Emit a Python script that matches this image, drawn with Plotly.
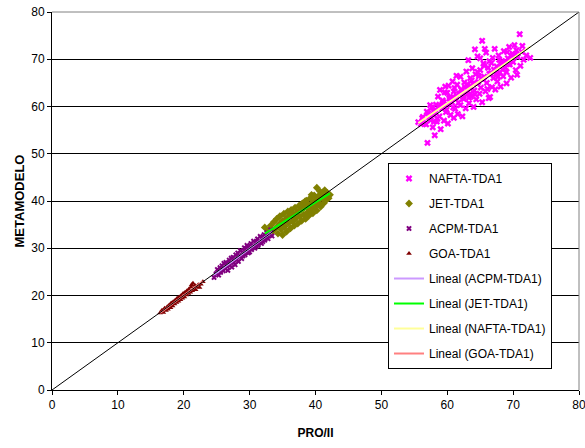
import numpy as np
import plotly.graph_objects as go

# PRO/II simulation (x) vs. metamodel prediction (y), per feed
nafta_pro = [55.6, 56.0, 56.3, 56.5, 56.8, 57.0, 57.1, 57.3, 57.5, 57.6, 56.9, 57.4,
             57.8, 58.0, 58.1, 58.3, 58.4, 58.6, 58.8, 58.9, 59.0, 59.2,
             59.3, 59.5, 59.6, 59.8, 60.0, 60.1, 60.2, 60.4, 60.5, 60.7, 60.8, 61.0, 61.0,
             61.2, 61.3, 61.5, 61.6, 61.8, 62.0, 62.0, 62.2, 62.3, 62.5, 62.6, 62.8, 62.9, 63.0,
             63.1, 63.2, 63.3, 63.5, 63.6, 63.8, 63.9, 64.0, 64.1, 64.3, 64.4, 64.6, 64.7, 64.9,
             65.0, 65.1, 65.3, 65.3, 65.5, 65.6, 65.8, 65.9, 66.0, 66.2, 66.3, 66.5, 66.6, 66.8, 66.9,
             67.0, 67.2, 67.3, 67.5, 67.6, 67.8, 68.0, 68.1, 68.3, 68.5, 68.6, 68.8, 69.0, 69.0,
             69.2, 69.4, 69.5, 69.7, 69.9, 70.0, 70.2, 70.4, 70.6, 70.7, 71.0, 71.1,
             71.3, 71.6, 72.0, 72.6, 59.7, 61.4, 64.2, 65.7, 60.9, 62.7, 64.5, 66.4, 68.2, 58.2,
             59.1, 60.6, 61.9, 63.4, 65.4, 67.1, 68.9, 70.3,
             56.2, 57.2, 57.9, 58.5, 59.4, 59.9, 60.3, 60.9, 61.4, 61.7,
             62.1, 62.4, 63.0, 63.3, 63.7, 64.2, 64.6, 65.2, 65.6, 66.1,
             66.7, 67.4, 67.9, 68.4, 69.3, 69.8, 70.5, 71.4, 58.7, 60.0,
             61.1, 62.6, 64.8, 66.4, 67.7, 69.1, 63.5, 65.0, 60.6, 58.0]
nafta_meta = [56.7, 56.3, 57.8, 56.4, 56.2, 52.3, 58.6, 57.6, 57.1, 59.8, 58.9, 60.3,
              55.6, 58.2, 53.9, 60.4, 56.8, 62.1, 57.9, 63.5, 55.2, 59.6,
              61.3, 57.0, 63.0, 58.8, 60.5, 56.4, 64.4, 62.0, 58.2, 60.9, 65.3, 57.6, 63.2,
              59.5, 61.8, 64.6, 58.4, 62.7, 60.3, 66.3, 63.5, 57.9, 61.6, 65.1, 59.6, 67.4, 62.8,
              64.3, 69.8, 60.7, 66.0, 62.1, 68.1, 64.8, 59.9, 63.4, 66.8, 61.5, 70.6, 65.2, 62.7,
              67.7, 64.0, 73.9, 60.9, 69.1, 66.3, 63.2, 71.4, 65.0, 68.2, 61.8, 62.0, 67.0, 64.1, 70.3,
              66.0, 72.2, 63.6, 68.5, 65.3, 70.8, 67.2, 64.2, 69.6, 66.4, 71.7, 68.3, 67.3, 64.9,
              70.2, 72.6, 68.9, 66.1, 71.2, 69.4, 73.0, 67.7, 66.7, 70.5, 75.3, 68.6,
              71.6, 69.9, 70.8, 70.3, 64.2, 66.5, 72.1, 72.2, 61.9, 64.0, 64.9, 66.9, 68.9, 59.3,
              60.2, 61.7, 62.6, 63.9, 65.8, 67.8, 69.5, 71.0,
              57.5, 58.0, 59.0, 57.4, 60.9, 59.3, 61.7, 59.8, 62.3, 60.8,
              63.6, 62.0, 64.7, 61.9, 65.5, 62.6, 67.3, 65.9, 68.6, 63.7,
              69.2, 66.9, 69.9, 67.8, 69.0, 70.7, 71.9, 72.8, 60.1, 62.9,
              63.9, 63.0, 66.4, 69.6, 66.3, 71.5, 62.7, 70.2, 61.5, 56.8]

jet_pro = [32.3, 32.8, 33.2, 33.5, 33.7, 34.0, 34.1, 34.3, 34.5, 34.6, 34.8, 35.0, 35.0,
           35.2, 35.3, 35.5, 35.6, 35.8, 35.9, 36.0, 36.2, 36.3, 36.5, 36.6, 36.8, 36.9,
           37.0, 37.2, 37.3, 37.5, 37.6, 37.8, 37.9, 38.0, 38.2, 38.3, 38.5, 38.6, 38.8,
           38.9, 39.0, 39.2, 39.3, 39.5, 39.6, 39.8, 39.9, 40.0, 40.2, 40.2, 40.4, 40.5,
           40.7, 40.8, 41.0, 41.1, 41.3, 41.5, 41.6, 41.8, 42.0, 42.2, 41.4, 40.9, 39.4, 38.4,
           35.4, 36.4, 37.4, 38.7, 39.7, 40.6]
jet_meta = [34.4, 33.9, 34.8, 33.6, 35.6, 34.3, 36.2, 33.1, 35.1, 36.8, 34.0, 32.8, 35.8,
            37.3, 34.6, 36.2, 33.5, 37.8, 35.3, 36.8, 34.2, 38.1, 35.7, 37.2, 34.8, 38.6,
            36.3, 37.6, 35.2, 39.0, 36.7, 38.2, 35.8, 39.5, 37.1, 38.6, 36.2, 40.1, 37.6,
            39.2, 36.9, 40.6, 38.3, 39.6, 37.4, 41.2, 38.8, 40.2, 42.8, 38.0, 41.0, 39.4,
            42.0, 38.8, 40.6, 41.8, 39.6, 41.2, 40.2, 41.7, 40.6, 41.3, 42.3, 41.5, 41.3, 39.9,
            35.9, 36.9, 37.7, 38.7, 39.5, 40.3]

acpm_pro = [24.6, 24.9, 25.1, 25.3, 25.5, 25.6, 25.8, 26.0, 26.1, 26.3, 26.4, 26.6, 26.7,
            26.9, 27.0, 27.2, 27.3, 27.5, 27.6, 27.8, 27.9, 28.0, 28.2, 28.3, 28.5, 28.6,
            28.8, 28.9, 29.0, 29.2, 29.3, 29.5, 29.6, 29.8, 29.9, 30.0, 30.2, 30.3, 30.5,
            30.6, 30.8, 30.9, 31.0, 31.2, 31.3, 31.5, 31.6, 31.8, 31.9, 32.0, 32.2, 32.3,
            32.5, 32.6, 32.8, 33.0, 33.2, 33.4, 32.7, 31.1, 29.4, 28.1, 26.8, 25.9]
acpm_meta = [23.8, 24.6, 25.5, 24.3, 25.9, 24.9, 26.3, 25.2, 26.8, 25.7, 27.0, 26.1, 25.3,
             27.5, 26.4, 27.9, 26.0, 28.1, 27.0, 26.5, 28.6, 27.5, 29.0, 27.2, 28.3, 29.5,
             27.8, 29.2, 28.4, 30.1, 28.6, 29.4, 30.6, 29.0, 30.3, 29.2, 31.0, 29.7, 30.5,
             31.5, 30.0, 31.2, 30.4, 32.0, 30.6, 31.4, 32.5, 31.0, 32.2, 31.4, 32.9, 31.7,
             32.4, 33.3, 32.0, 33.0, 33.9, 32.6, 32.7, 31.3, 29.9, 28.2, 26.9, 25.8]

goa_pro = [16.4, 16.7, 16.9, 17.1, 17.3, 17.5, 17.6, 17.8, 18.0, 18.1, 18.3, 18.4, 18.6,
           18.7, 18.9, 19.0, 19.2, 19.3, 19.5, 19.6, 19.8, 19.9, 20.1, 20.2, 20.4, 20.5,
           20.7, 20.8, 21.0, 21.1, 21.3, 21.4, 21.5, 21.7, 21.8, 22.0, 22.2, 22.4, 22.6,
           22.9, 19.4, 20.6, 17.9, 21.2]
goa_meta = [16.3, 16.9, 16.4, 17.3, 16.8, 17.6, 17.1, 18.0, 17.4, 18.4, 17.8, 18.7, 18.2,
            19.0, 18.5, 19.4, 18.8, 19.7, 19.1, 20.0, 19.4, 20.4, 19.7, 20.7, 20.1, 21.0,
            20.4, 21.4, 20.7, 21.8, 21.0, 22.6, 21.3, 22.1, 21.2, 21.8, 22.3, 21.7, 22.4,
            22.9, 19.2, 20.6, 17.9, 22.3]

# y = x reference line over the axis span
identity_line = [0, 80]
axis_ticks = [0, 10, 20, 30, 40, 50, 60, 70, 80]

FONT = "Arial, Liberation Sans, sans-serif"

scatter_series = [
    ("NAFTA-TDA1", nafta_pro, nafta_meta, "x", "#FF00FF", 6),
    ("JET-TDA1", jet_pro, jet_meta, "diamond", "#808000", 6),
    ("ACPM-TDA1", acpm_pro, acpm_meta, "x", "#800080", 5),
    ("GOA-TDA1", goa_pro, goa_meta, "triangle-up", "#800000", 5),
]
trend_series = [
    ("Lineal (ACPM-TDA1)", acpm_pro, acpm_meta, "#CC99FF"),
    ("Lineal (JET-TDA1)", jet_pro, jet_meta, "#00FF00"),
    ("Lineal (NAFTA-TDA1)", nafta_pro, nafta_meta, "#FFFF99"),
    ("Lineal (GOA-TDA1)", goa_pro, goa_meta, "#FF8080"),
]

fig = go.Figure()

for i, (name, xs, ys, sym, col, sz) in enumerate(scatter_series):
    fig.add_trace(go.Scatter(
        x=xs, y=ys, mode="markers", name=name, legendgroup=f"g{i}",
        marker=dict(symbol=sym, color=col, size=sz, line=dict(width=0)),
    ))

# least-squares trend line for each feed
for j, (name, xs, ys, col) in enumerate(trend_series):
    slope, intercept = np.polyfit(xs, ys, 1)
    xl = np.array([min(xs), max(xs)])
    fig.add_trace(go.Scatter(
        x=xl, y=slope * xl + intercept, mode="lines", name=name,
        legendgroup=f"t{j}", line=dict(color=col, width=2),
    ))

fig.add_trace(go.Scatter(
    x=identity_line, y=identity_line, mode="lines", showlegend=False,
    line=dict(color="black", width=1), hoverinfo="skip",
))

axis_common = dict(
    range=[0, 80], tickvals=axis_ticks, ticks="outside", ticklen=4,
    tickcolor="black", showline=True, linecolor="black", linewidth=1,
    zeroline=False, tickfont=dict(family=FONT, size=12, color="black"),
    ticklabeloverflow="allow", automargin=False,
)

fig.update_layout(
    width=585, height=448,
    margin=dict(l=52, r=6, t=12, b=58),
    paper_bgcolor="white", plot_bgcolor="white",
    font=dict(family=FONT, color="black"),
    xaxis=dict(**axis_common, showgrid=False,
               title=dict(text="<b>PRO/II</b>", font=dict(family=FONT, size=12), standoff=17)),
    yaxis=dict(**axis_common, showgrid=True, gridcolor="#000000", gridwidth=1,
               title=dict(text="<b>METAMODELO</b>", font=dict(family=FONT, size=13), standoff=3)),
    legend=dict(
        x=0.6376, y=0.6005, xanchor="left", yanchor="top",
        bgcolor="white", bordercolor="black", borderwidth=1,
        font=dict(family=FONT, size=12, color="black"),
        traceorder="grouped", tracegroupgap=6,
    ),
    shapes=[
        dict(type="line", xref="paper", yref="paper", x0=1, x1=1, y0=0, y1=1,
             line=dict(color="#808080", width=1)),
        dict(type="line", xref="paper", yref="paper", x0=0, x1=1, y0=1, y1=1,
             line=dict(color="#808080", width=1)),
    ],
    showlegend=True,
)

fig.write_html("out.html")
